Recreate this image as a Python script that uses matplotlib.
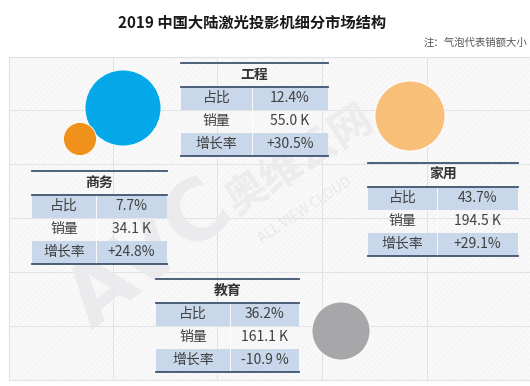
import matplotlib
matplotlib.use('Agg')
import matplotlib.pyplot as plt
from matplotlib.patches import Circle, Rectangle

plt.rcParams['font.family'] = ['Noto Sans CJK SC', 'DejaVu Sans']
plt.rcParams['hatch.linewidth'] = 0.5

# data
segments = ['工程', '商务', '家用', '教育']
share = ['12.4%', '7.7%', '43.7%', '36.2%']
sales = ['55.0 K', '34.1 K', '194.5 K', '161.1 K']
growth = ['+30.5%', '+24.8%', '+29.1%', '-10.9 %']
row_labels = ['占比', '销量', '增长率']

# bubbles (colour, size as drawn in the picture, px radius)
bubble_colors = ['#05a9ea', '#f0911c', '#f8bf78', '#a7a7aa']
bubble_size = [38, 16.5, 35, 29]

title = '2019 中国大陆激光投影机细分市场结构'
note = '注：气泡代表销额大小'

# layout (pixel units, y down)
table_box = {  # x0, x1, column divider, top
    '工程': (181, 328, 252, 63),
    '商务': (32, 167, 96, 171),
    '家用': (368, 518, 437, 163),
    '教育': (156, 299, 230, 279),
}
bubble_xy = [(123, 108), (80, 139), (410, 116), (341, 331)]
HEAD = 23.5
ROW = 23.0

fig = plt.figure(figsize=(5.30, 3.86), dpi=100)
ax = fig.add_axes([0, 0, 1, 1])
ax.set_xlim(0, 530)
ax.set_ylim(386, 0)
ax.axis('off')

# background panel with faint grid
ax.add_patch(Rectangle((9, 57), 530, 323, facecolor='#f9f9fa', edgecolor='none', zorder=0))
ax.add_patch(Rectangle((9, 57), 530, 323, facecolor='none', edgecolor='#f1f1f3',
                       lw=0, hatch='//////', zorder=0.5))
ax.add_patch(Rectangle((9, 57), 530, 323, facecolor='none', edgecolor='#e2e2e6',
                       lw=0.8, zorder=1))
for gx in [113, 217, 322, 427]:
    ax.plot([gx, gx], [57, 380], color='#e2e2e6', lw=0.7, zorder=1)
for gy in [110, 164, 218, 272, 326]:
    ax.plot([9, 530], [gy, gy], color='#e2e2e6', lw=0.7, zorder=1)

# watermark
ax.text(150, 255, 'AVC', fontsize=60, fontweight='bold', color='#ebebee', rotation=38,
        ha='center', va='center', family=['DejaVu Sans'], zorder=1)
ax.text(300, 160, '奥维云网', fontsize=30, fontweight='bold', color='#ececef', rotation=33,
        ha='center', va='center', zorder=1)
ax.text(305, 210, 'ALL VIEW CLOUD', fontsize=10, color='#e8e8eb', rotation=33,
        ha='center', va='center', zorder=1)

ax.text(252, 23, title, fontsize=11, fontweight='bold', color='#1a1a1a',
        ha='center', va='center', zorder=5)
ax.text(527, 43, note, fontsize=7.5, color='#555555', ha='right', va='center', zorder=5)

for (cx, cy), r, c in zip(bubble_xy, bubble_size, bubble_colors):
    ax.add_patch(Circle((cx, cy), r, facecolor=c, edgecolor='#ffffff', lw=0.6, zorder=3))

line_c = '#3f5470'
shade = '#c8d8ea'
for i, seg in enumerate(segments):
    x0, x1, xd, top = table_box[seg]
    vals = [share[i], sales[i], growth[i]]
    ax.text((x0 + x1) / 2, top + HEAD / 2 + 0.5, seg, fontsize=10, fontweight='bold',
            color='#333333', ha='center', va='center', zorder=5)
    for j in range(3):
        y = top + HEAD + j * ROW
        if j != 1:
            ax.add_patch(Rectangle((x0, y), x1 - x0, ROW, facecolor=shade,
                                   edgecolor='none', zorder=3))
        ax.text((x0 + xd) / 2, y + ROW / 2, row_labels[j], fontsize=10, color='#404040',
                ha='center', va='center', zorder=5)
        ax.text((xd + x1) / 2, y + ROW / 2, vals[j], fontsize=10, color='#404040',
                ha='center', va='center', zorder=5)
    ax.plot([xd, xd], [top + HEAD, top + HEAD + 3 * ROW], color='#ffffff', lw=0.6, zorder=4)
    bottom = top + HEAD + 3 * ROW
    for yy in [top, top + HEAD, bottom]:
        ax.plot([x0, x1], [yy, yy], color=line_c, lw=1.3, zorder=4)

fig.savefig('out.png', dpi=100)
